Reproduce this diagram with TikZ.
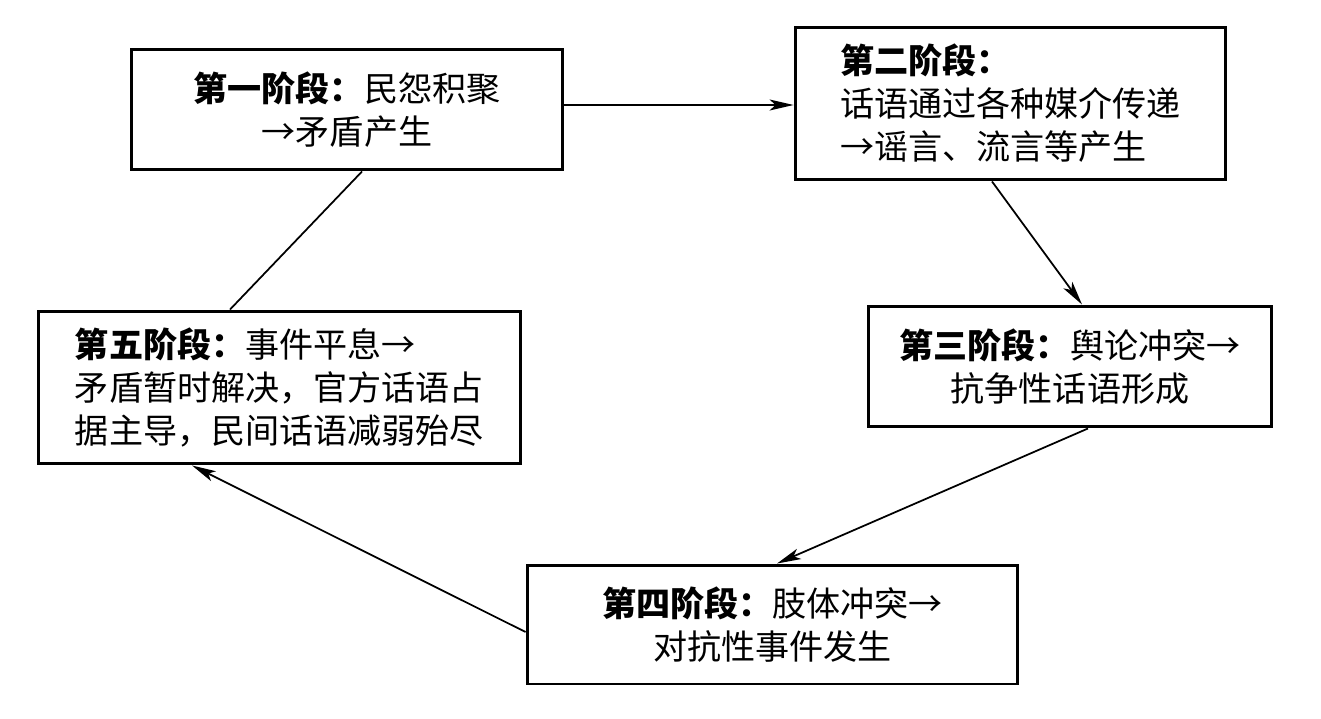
\documentclass[tikz,border=0pt]{standalone}
\usepackage{fontspec}
\newfontfamily\cjk{Noto Sans CJK SC}
\usetikzlibrary{arrows.meta}

\begin{document}
\begin{tikzpicture}[
      x=0.02cm, y=-0.02cm,
      every node/.style={font=\cjk\fontsize{19.4pt}{24.5pt}\selectfont, inner sep=0pt},
      stagebox/.style={draw, line width=1.7pt, align=center},
      arrow/.style={-{Stealth[length=0.48cm,width=0.22cm,inset=0.12cm]}, line width=1pt},
      link/.style={line width=1pt}
    ]
      \useasboundingbox (0,0) rectangle (1321,719);

      % Stage boxes
      \node[stagebox, minimum width=8.64cm, minimum height=2.42cm] (stage1) at (347,109.5)
        {{\bfseries 第一阶段：}民怨积聚\\→矛盾产生};
      \node[stagebox, align=left, minimum width=8.62cm, minimum height=3.06cm] (stage2) at (1010.5,103.5)
        {{\bfseries 第二阶段：}\\话语通过各种媒介传递\\→谣言、流言等产生};
      \node[stagebox, minimum width=8.08cm, minimum height=2.42cm] (stage3) at (1070,366.5)
        {{\bfseries 第三阶段：}舆论冲突→\\抗争性话语形成};
      \node[stagebox, minimum width=9.82cm, minimum height=2.38cm] (stage4) at (772.5,624.5)
        {{\bfseries 第四阶段：}肢体冲突→\\对抗性事件发生};
      \node[stagebox, align=left, minimum width=9.66cm, minimum height=3.06cm] (stage5) at (279.5,387.5)
        {{\bfseries 第五阶段：}事件平息→\\矛盾暂时解决，官方话语占\\据主导，民间话语减弱殆尽};

      % Arrows
      \draw[arrow] ([yshift=0.09cm]stage1.east) -- ([yshift=0.09cm]stage1.east -| stage2.west);
      \draw[arrow] ([xshift=-0.37cm]stage2.south) -- ([xshift=0.24cm]stage3.north);
      \draw[arrow] ([xshift=0.36cm]stage3.south) -- ([xshift=0.09cm]stage4.north);
      \draw[arrow] ([yshift=-0.15cm]stage4.west) -- ([xshift=-1.75cm]stage5.south);
      \draw[link] ([xshift=-0.99cm]stage5.north) -- ([xshift=0.3cm]stage1.south);
    \end{tikzpicture}
\end{document}
